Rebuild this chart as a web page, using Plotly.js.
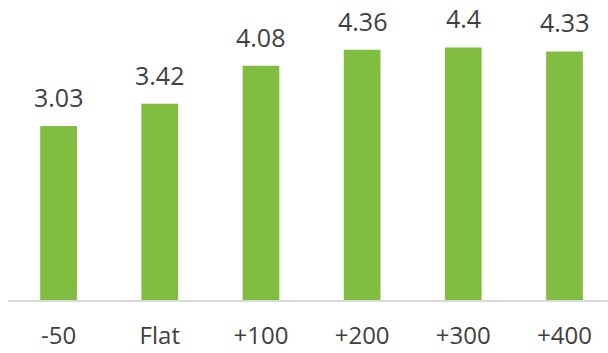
<!DOCTYPE html>
<html>
<head>
<meta charset="utf-8">
<script src="https://cdn.plot.ly/plotly-3.0.1.min.js"></script>
<style>html,body{margin:0;padding:0;background:#fff;}#chart{width:608px;height:353px;}</style>
</head>
<body>
<div id="chart"></div>
<script>
const categories = ["-50", "Flat", "+100", "+200", "+300", "+400"];
const values = [3.03, 3.42, 4.08, 4.36, 4.4, 4.33];
const labels = ["3.03", "3.42", "4.08", "4.36", "4.4", "4.33"];

const FONT = "Open Sans, sans-serif";
const idx = categories.map((c, i) => i);

const trace = {
  type: "bar",
  x: idx,
  y: values,
  width: 0.363,
  marker: {color: "#80BD41"},
  hoverinfo: "none"
};

const annotations = idx.map((i) => ({
  x: i, y: values[i], xref: "x", yref: "y",
  text: labels[i], showarrow: false,
  yanchor: "bottom", yshift: 10,
  font: {family: FONT, size: 25, color: "#404040"}
}));

const layout = {
  width: 608, height: 353,
  margin: {l: 8, r: 0, t: 0, b: 53, pad: 0},
  paper_bgcolor: "#fff", plot_bgcolor: "#fff",
  showlegend: false,
  xaxis: {
    range: [-0.5, 5.43],
    tickmode: "array", tickvals: idx, ticktext: categories,
    showline: true, linecolor: "#D9D9D9", linewidth: 2,
    showgrid: false, zeroline: false, ticks: "",
    ticklabelstandoff: 13,
    tickfont: {family: FONT, size: 24, color: "#404040"},
    fixedrange: true
  },
  yaxis: {
    range: [0, 5.226],
    visible: false, showgrid: false, zeroline: false,
    fixedrange: true
  },
  annotations: annotations
};

Plotly.newPlot("chart", [trace], layout, {staticPlot: true, displayModeBar: false});
</script>
</body>
</html>
